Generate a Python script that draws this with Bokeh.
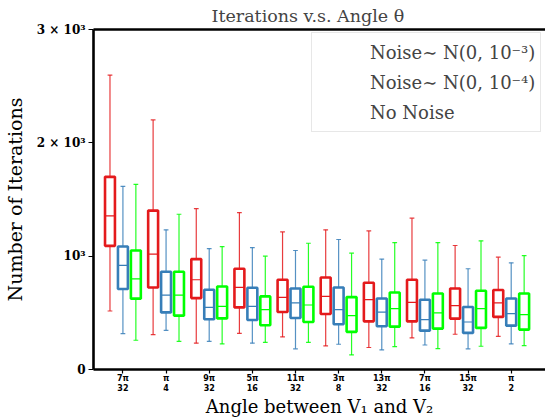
from bokeh.plotting import figure
from bokeh.models import ColumnDataSource, FixedTicker, Legend, LegendItem, Range1d, Title, LinearAxis
from bokeh.transform import dodge
from bokeh.embed import file_html
from bokeh.resources import INLINE

# ---- data ----
numerators = ["7π", "π", "9π", "5π", "11π", "3π", "13π", "7π", "15π", "π"]
denominators = ["32", "4", "32", "16", "32", "8", "32", "16", "32", "2"]
groups = list(range(10))

red_low = [516, 308, 232, 319, 287, 208, 194, 279, 311, 293]
red_q1 = [1091, 724, 630, 548, 507, 490, 425, 425, 449, 464]
red_med = [1355, 1018, 792, 724, 636, 645, 616, 592, 563, 587]
red_q3 = [1700, 1402, 974, 889, 792, 812, 765, 792, 715, 701]
red_high = [2598, 2202, 1419, 1385, 1214, 1232, 1223, 1335, 1094, 991]

blue_low = [317, 346, 249, 232, 182, 223, 173, 216, 182, 226]
blue_q1 = [710, 504, 443, 437, 455, 399, 381, 343, 323, 387]
blue_med = [918, 657, 548, 557, 587, 528, 507, 440, 419, 493]
blue_q3 = [1085, 862, 704, 721, 715, 724, 627, 616, 552, 627]
blue_high = [1616, 1232, 1067, 1076, 1050, 1147, 974, 965, 889, 941]

green_low = [258, 249, 226, 240, 240, 129, 202, 185, 205, 211]
green_q1 = [625, 475, 451, 390, 419, 332, 378, 361, 367, 352]
green_med = [800, 657, 557, 528, 569, 475, 537, 499, 537, 484]
green_q3 = [1050, 862, 733, 645, 730, 639, 680, 671, 695, 671]
green_high = [1634, 1370, 1085, 1000, 1114, 1026, 1120, 1120, 1135, 1005]

series_labels = ["Noise∼ N(0, 10⁻³)", "Noise∼ N(0, 10⁻⁴)", "No Noise"]
y_ticks = [0, 1000, 2000, 3000]
y_tick_labels = ["0", "10³", "2 × 10³", "3 × 10³"]

SERIF = "DejaVu Serif"

p = figure(width=545, height=420, output_backend="svg", toolbar_location=None,
           x_range=Range1d(-0.682, 9.795), y_range=Range1d(0, 3000),
           min_border_left=84, min_border_right=0, min_border_top=29, min_border_bottom=50)
p.outline_line_color = None
p.xgrid.visible = False
p.ygrid.visible = False

p.title = Title(text="Iterations v.s. Angle θ", align="left", offset=118,
                text_font=SERIF, text_font_size="17.5px", text_font_style="normal",
                standoff=7)

series = [
    ("#e41a1c", -0.3, red_low, red_q1, red_med, red_q3, red_high),
    ("#377eb8", 0.0, blue_low, blue_q1, blue_med, blue_q3, blue_high),
    ("#00ff00", 0.3, green_low, green_q1, green_med, green_q3, green_high),
]

half_box = 0.115
half_cap = 0.055
legend_items = []
for (color, off, lo, q1, med, q3, hi), lab in zip(series, series_labels):
    src = ColumnDataSource(dict(x=groups, lo=lo, q1=q1, med=med, q3=q3, hi=hi))
    p.segment(x0=dodge("x", off, range=p.x_range), x1=dodge("x", off, range=p.x_range),
              y0="q3", y1="hi", source=src, line_color=color, line_width=1.2, line_alpha=0.85)
    p.segment(x0=dodge("x", off, range=p.x_range), x1=dodge("x", off, range=p.x_range),
              y0="lo", y1="q1", source=src, line_color=color, line_width=1.2, line_alpha=0.85)
    for yf in ("lo", "hi"):
        p.segment(x0=dodge("x", off - half_cap, range=p.x_range), x1=dodge("x", off + half_cap, range=p.x_range),
                  y0=yf, y1=yf, source=src, line_color=color, line_width=1.2, line_alpha=0.85)
    p.quad(left=dodge("x", off - half_box, range=p.x_range), right=dodge("x", off + half_box, range=p.x_range),
           bottom="q1", top="q3", source=src, fill_color=None, line_color=color, line_width=2.6)
    p.segment(x0=dodge("x", off - half_box, range=p.x_range), x1=dodge("x", off + half_box, range=p.x_range),
              y0="med", y1="med", source=src, line_color=color, line_width=1.2)
    leg_r = p.line(x=[], y=[], line_color=color, line_width=2)
    legend_items.append(LegendItem(label=lab, renderers=[leg_r]))

legend = Legend(items=legend_items, location=(218, 237),
                label_text_font=SERIF, label_text_font_size="18px",
                glyph_width=39, glyph_height=28, label_height=28, spacing=2,
                label_standoff=14, padding=5,
                border_line_color="#d0d0d0", border_line_width=1,
                background_fill_color="white", background_fill_alpha=0.85)
p.add_layout(legend, "center")

bottom_ax = p.below[0]
left_ax = p.left[0]

# top spine
top_ax = LinearAxis(ticker=FixedTicker(ticks=[]), axis_line_color="black", axis_line_width=2.6,
                    major_tick_line_color=None, minor_tick_line_color=None,
                    major_label_standoff=0)
p.add_layout(top_ax, "above")

# axes
bottom_ax.ticker = FixedTicker(ticks=groups)
bottom_ax.major_label_overrides = {
    g: n + "\n" + d for g, n, d in zip(groups, numerators, denominators)
}
left_ax.ticker = FixedTicker(ticks=y_ticks)
left_ax.major_label_overrides = {t: l for t, l in zip(y_ticks, y_tick_labels)}

for ax in (bottom_ax, left_ax):
    ax.axis_line_color = "black"
    ax.axis_line_width = 2.6
    ax.major_tick_line_color = "black"
    ax.major_tick_line_width = 1.2
    ax.major_tick_out = 5
    ax.major_tick_in = 0
    ax.minor_tick_line_color = None
    ax.major_label_text_font = SERIF
    ax.major_label_text_font_style = "bold"
    ax.major_label_text_color = "black"
    ax.axis_label_text_font = SERIF
    ax.axis_label_text_font_style = "normal"
    ax.axis_label_text_color = "black"

bottom_ax.major_tick_out = 4
bottom_ax.major_label_text_font = "DejaVu Sans"
bottom_ax.major_label_text_font_size = "8px"
bottom_ax.major_label_standoff = 0
bottom_ax.axis_label = "Angle between V₁ and V₂"
bottom_ax.axis_label_text_font_size = "18px"
bottom_ax.axis_label_standoff = 0
left_ax.major_label_text_font_size = "12px"
left_ax.axis_label = "Number of Iterations"
left_ax.axis_label_text_font_size = "19px"
left_ax.major_label_standoff = 3
left_ax.axis_label_standoff = 8

open("out.html", "w").write(file_html(p, INLINE))
